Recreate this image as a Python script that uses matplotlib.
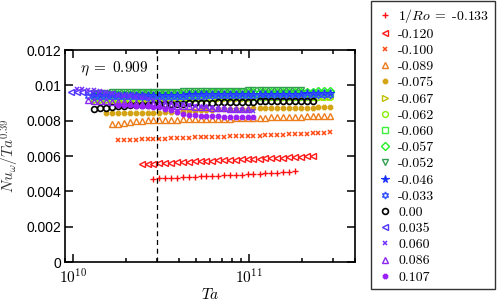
import numpy as np
import matplotlib
matplotlib.use('Agg')
import matplotlib.pyplot as plt
from matplotlib.ticker import FixedLocator, FuncFormatter, LogLocator, NullFormatter

matplotlib.rcParams.update({
    'mathtext.fontset': 'cm',
    'font.family': 'Liberation Sans',
    'font.size': 10,
})

# Ta grid (units of 1e10), every series is a slice of it
ta_grid = [0.97, 1.05, 1.13, 1.22, 1.32, 1.43, 1.54, 1.67, 1.80, 1.95,
           2.10, 2.27, 2.45, 2.65, 2.86, 3.09, 3.34, 3.61, 3.90, 4.21,
           4.55, 4.91, 5.30, 5.73, 6.19, 6.68, 7.22, 7.80, 8.42, 9.09,
           9.82, 10.6, 11.5, 12.4, 13.4, 14.5, 15.6, 16.9, 18.2, 19.7,
           21.3, 23.0, 24.8, 26.8, 29.0, 31.3]

inv_ro = ['-0.133', '-0.120', '-0.100', '-0.089', '-0.075', '-0.067', '-0.062',
          '-0.060', '-0.057', '-0.052', '-0.046', '-0.033', '0.00', '0.035',
          '0.060', '0.086', '0.107']

# first grid index of each series
start_idx = [14, 12, 8, 7, 6, 4, 4, 4, 4, 4, 4, 3, 4, 0, 1, 3, 8]

nu_m0133 = [0.00472, 0.00474, 0.00476, 0.00477, 0.00478, 0.00480, 0.00481, 0.00483, 0.00484, 0.00486,
            0.00487, 0.00489, 0.00490, 0.00492, 0.00493, 0.00495, 0.00497, 0.00498, 0.00500, 0.00502,
            0.00504, 0.00506, 0.00508, 0.00511, 0.00514]
nu_m0120 = [0.00552, 0.00555, 0.00557, 0.00559, 0.00561, 0.00563, 0.00564, 0.00566, 0.00567, 0.00569,
            0.00570, 0.00572, 0.00573, 0.00575, 0.00576, 0.00578, 0.00579, 0.00581, 0.00582, 0.00584,
            0.00585, 0.00587, 0.00588, 0.00590, 0.00591, 0.00593, 0.00595, 0.00597, 0.00599, 0.00601]
nu_m0100 = [0.00690, 0.00691, 0.00692, 0.00693, 0.00694, 0.00695, 0.00696, 0.00697, 0.00699, 0.00700,
            0.00701, 0.00702, 0.00704, 0.00705, 0.00706, 0.00707, 0.00708, 0.00709, 0.00710, 0.00711,
            0.00712, 0.00713, 0.00714, 0.00715, 0.00716, 0.00717, 0.00718, 0.00719, 0.00720, 0.00722,
            0.00723, 0.00725, 0.00726, 0.00728, 0.00730, 0.00732, 0.00736]
nu_m0089 = [0.00780, 0.00783, 0.00787, 0.00792, 0.00797, 0.00800, 0.00802, 0.00803, 0.00804, 0.00805,
            0.00806, 0.00806, 0.00807, 0.00808, 0.00808, 0.00809, 0.00810, 0.00810, 0.00811, 0.00812,
            0.00812, 0.00813, 0.00814, 0.00815, 0.00815, 0.00816, 0.00817, 0.00818, 0.00819, 0.00820,
            0.00821, 0.00822, 0.00823, 0.00824, 0.00825, 0.00826, 0.00827, 0.00829]
nu_m0075 = [0.00846, 0.00845, 0.00844, 0.00843, 0.00842, 0.00842, 0.00842, 0.00843, 0.00844, 0.00845,
            0.00847, 0.00849, 0.00851, 0.00853, 0.00855, 0.00857, 0.00859, 0.00861, 0.00862, 0.00864,
            0.00865, 0.00866, 0.00867, 0.00868, 0.00868, 0.00869, 0.00870, 0.00870, 0.00871, 0.00871,
            0.00872, 0.00872, 0.00873, 0.00873, 0.00874, 0.00874, 0.00875, 0.00875, 0.00876]
nu_m0067 = [0.00912, 0.00913, 0.00913, 0.00914, 0.00914, 0.00915, 0.00915, 0.00916, 0.00916, 0.00917,
            0.00917, 0.00918, 0.00918, 0.00919, 0.00919, 0.00920, 0.00920, 0.00921, 0.00921, 0.00922,
            0.00922, 0.00923, 0.00923, 0.00924, 0.00924, 0.00925, 0.00925, 0.00926, 0.00926, 0.00927,
            0.00927, 0.00928, 0.00928, 0.00929, 0.00929, 0.00930, 0.00930, 0.00931, 0.00931, 0.00932,
            0.00932]
nu_m0062 = [0.00922, 0.00923, 0.00923, 0.00924, 0.00924, 0.00925, 0.00925, 0.00926, 0.00926, 0.00927,
            0.00927, 0.00928, 0.00928, 0.00929, 0.00929, 0.00930, 0.00930, 0.00930, 0.00931, 0.00931,
            0.00931, 0.00932, 0.00932, 0.00932, 0.00933, 0.00933, 0.00933, 0.00934, 0.00934, 0.00934,
            0.00934, 0.00935, 0.00935, 0.00935, 0.00935, 0.00935, 0.00935, 0.00934, 0.00934, 0.00933,
            0.00932]
nu_m0060 = [0.00940, 0.00941, 0.00941, 0.00942, 0.00942, 0.00943, 0.00943, 0.00944, 0.00944, 0.00945,
            0.00945, 0.00946, 0.00946, 0.00947, 0.00947, 0.00948, 0.00948, 0.00948, 0.00949, 0.00949,
            0.00950, 0.00950, 0.00950, 0.00951, 0.00951, 0.00951, 0.00952, 0.00952, 0.00952, 0.00953,
            0.00953, 0.00953, 0.00954, 0.00954, 0.00954, 0.00955, 0.00955, 0.00955, 0.00956, 0.00956,
            0.00956]
nu_m0057 = [0.00950, 0.00951, 0.00951, 0.00952, 0.00952, 0.00953, 0.00953, 0.00954, 0.00954, 0.00955,
            0.00955, 0.00956, 0.00956, 0.00957, 0.00957, 0.00958, 0.00958, 0.00958, 0.00959, 0.00959,
            0.00960, 0.00960, 0.00960, 0.00961, 0.00961, 0.00961, 0.00962, 0.00962, 0.00962, 0.00963,
            0.00963, 0.00963, 0.00964, 0.00964, 0.00964, 0.00965, 0.00965, 0.00965, 0.00966, 0.00966,
            0.00966]
nu_m0052 = [0.00958, 0.00959, 0.00959, 0.00960, 0.00960, 0.00961, 0.00961, 0.00962, 0.00962, 0.00963,
            0.00963, 0.00964, 0.00964, 0.00965, 0.00965, 0.00966, 0.00966, 0.00967, 0.00967, 0.00968,
            0.00968, 0.00969, 0.00969, 0.00970, 0.00970, 0.00970, 0.00971, 0.00971, 0.00971, 0.00972,
            0.00972, 0.00972, 0.00972, 0.00973, 0.00973, 0.00973]
nu_m0046 = [0.00944, 0.00944, 0.00945, 0.00945, 0.00945, 0.00946, 0.00946, 0.00946, 0.00947, 0.00947,
            0.00947, 0.00947, 0.00948, 0.00948, 0.00948, 0.00948, 0.00949, 0.00949, 0.00949, 0.00949,
            0.00950, 0.00950, 0.00950, 0.00950, 0.00951, 0.00951, 0.00951, 0.00951, 0.00952, 0.00952,
            0.00952, 0.00952, 0.00953, 0.00953, 0.00953, 0.00953, 0.00954, 0.00954, 0.00954, 0.00955,
            0.00955]
nu_m0033 = [0.00938, 0.00936, 0.00934, 0.00933, 0.00932, 0.00932, 0.00932, 0.00932, 0.00933, 0.00933,
            0.00933, 0.00934, 0.00934, 0.00934, 0.00935, 0.00935, 0.00935, 0.00936, 0.00936, 0.00936,
            0.00937, 0.00937, 0.00937, 0.00938, 0.00938, 0.00938, 0.00939, 0.00939, 0.00939, 0.00940,
            0.00940, 0.00940, 0.00941, 0.00941, 0.00941, 0.00942, 0.00942, 0.00942, 0.00943, 0.00943,
            0.00944, 0.00944]
nu_p0000 = [0.00866, 0.00870, 0.00874, 0.00878, 0.00881, 0.00884, 0.00886, 0.00888, 0.00890, 0.00891,
            0.00892, 0.00893, 0.00894, 0.00895, 0.00896, 0.00897, 0.00898, 0.00899, 0.00900, 0.00901,
            0.00902, 0.00903, 0.00904, 0.00905, 0.00906, 0.00906, 0.00907, 0.00908, 0.00909, 0.00909,
            0.00910, 0.00910, 0.00911, 0.00911, 0.00912, 0.00912, 0.00913, 0.00914]
nu_p0035 = [0.00962, 0.00961, 0.00960, 0.00958, 0.00956, 0.00954, 0.00952, 0.00950, 0.00948, 0.00946,
            0.00944, 0.00942, 0.00940]
nu_p0060 = [0.00980, 0.00978, 0.00975, 0.00971, 0.00966, 0.00960, 0.00954, 0.00948, 0.00942, 0.00937,
            0.00932, 0.00927, 0.00922, 0.00917, 0.00912, 0.00907, 0.00902, 0.00897, 0.00892, 0.00888,
            0.00884, 0.00880, 0.00876, 0.00872, 0.00868, 0.00865, 0.00862, 0.00860, 0.00858, 0.00857,
            0.00856]
nu_p0086 = [0.00915, 0.00913, 0.00911, 0.00909, 0.00907, 0.00905, 0.00903, 0.00901, 0.00899, 0.00897,
            0.00895, 0.00893, 0.00891, 0.00889, 0.00887, 0.00885, 0.00883, 0.00881, 0.00879, 0.00877,
            0.00875, 0.00873, 0.00871, 0.00869, 0.00867, 0.00866, 0.00865, 0.00864]
nu_p0107 = [0.00888, 0.00887, 0.00886, 0.00885, 0.00884, 0.00882, 0.00879, 0.00875, 0.00868, 0.00858,
            0.00848, 0.00840, 0.00834, 0.00830, 0.00828, 0.00826, 0.00825, 0.00824, 0.00823, 0.00823,
            0.00822, 0.00822, 0.00822, 0.00822]

nu_all = [nu_m0133, nu_m0120, nu_m0100, nu_m0089, nu_m0075, nu_m0067, nu_m0062, nu_m0060,
          nu_m0057, nu_m0052, nu_m0046, nu_m0033, nu_p0000, nu_p0035, nu_p0060, nu_p0086, nu_p0107]

ta_crit = 3e10
eta = '0.909'

# marker, color, filled, size, edge width
styles = [
    ('+', '#ff1010', False, 5.0, 1.0),
    ('<', '#ff1a1a', False, 4.3, 1.0),
    ('x', '#ff4a14', False, 3.5, 1.1),
    ('^', '#ec7d1c', False, 4.4, 1.0),
    ((8, 2, 0), '#d4a414', True, 3.8, 1.8),
    ('>', '#c0c000', False, 4.3, 1.0),
    ('o', '#84f000', False, 4.2, 1.0),
    ('s', '#3cf03c', False, 3.8, 1.0),
    ('D', '#22ee22', False, 3.6, 1.0),
    ('v', '#30a050', False, 4.4, 1.0),
    ('*', '#1a30ff', True, 5.3, 0.8),
    ((6, 1, 0), '#3050ff', False, 5.0, 1.0),
    ('o', 'black', False, 4.2, 1.2),
    ('<', '#5035ff', False, 4.3, 1.0),
    ('x', '#7030ff', False, 3.5, 1.1),
    ('^', '#8a28f0', False, 4.4, 1.0),
    ((8, 2, 0), '#9a20f8', True, 3.8, 1.8),
]


def sci_label(x, pos):
    return r'$\mathsf{10^{%d}}$' % int(round(np.log10(x)))


def main():
    ta = np.array(ta_grid) * 1e10
    fig = plt.figure(figsize=(4.98, 3.08), dpi=100)
    ax = fig.add_axes([65 / 498, 46 / 308, 290 / 498, 212 / 308])

    for lbl, i0, nu, st in zip(inv_ro, start_idx, nu_all, styles):
        mk, col, filled, ms, mew = st
        if lbl == '-0.133':
            lbl = r'$1/Ro\;=\;$-0.133'
        ax.plot(ta[i0:i0 + len(nu)], nu, linestyle='none', marker=mk, color=col,
                mfc=col if filled else 'none', ms=ms, mew=mew, label=lbl)

    ax.axvline(ta_crit, color='black', linestyle=(0, (4, 3)), linewidth=0.9)

    ax.set_xscale('log')
    ax.set_xlim(9e9, 4e11)
    ax.set_ylim(0, 0.012)
    ax.set_yticks([0, 0.002, 0.004, 0.006, 0.008, 0.01, 0.012])
    ax.set_yticklabels(['0', '0.002', '0.004', '0.006', '0.008', '0.01', '0.012'])
    ax.xaxis.set_major_locator(FixedLocator([1e10, 1e11]))
    ax.xaxis.set_major_formatter(FuncFormatter(sci_label))
    ax.xaxis.set_minor_locator(LogLocator(base=10, subs=np.arange(2, 10)))
    ax.xaxis.set_minor_formatter(NullFormatter())
    ax.tick_params(which='both', direction='in', top=True, right=True, width=1.1)
    ax.tick_params(which='major', length=6, pad=2.5, labelsize=10)
    ax.tick_params(axis='x', which='major', labelsize=11, pad=3.5)
    ax.tick_params(which='minor', length=3)
    for sp in ax.spines.values():
        sp.set_linewidth(1.2)

    ax.set_xlabel(r'$Ta$', fontsize=11, labelpad=1)
    ax.set_ylabel(r'$Nu_\omega/Ta^{0.39}$', fontsize=11, labelpad=4, color='#333333')
    ax.text(0.05, 0.895, r'$\eta\;=\;%s$' % eta, transform=ax.transAxes, fontsize=11)

    leg = ax.legend(loc='upper left', bbox_to_anchor=(371 / 498, 1 - 1 / 308),
                    bbox_transform=fig.transFigure, borderaxespad=0, numpoints=1,
                    handlelength=1.2, handletextpad=0.35, labelspacing=0.25,
                    borderpad=0.4, fancybox=False, prop={'family': 'cmr10', 'size': 10})
    leg.get_frame().set_edgecolor('black')
    leg.get_frame().set_linewidth(1.0)

    fig.savefig('out.png', dpi=100)


if __name__ == '__main__':
    main()
